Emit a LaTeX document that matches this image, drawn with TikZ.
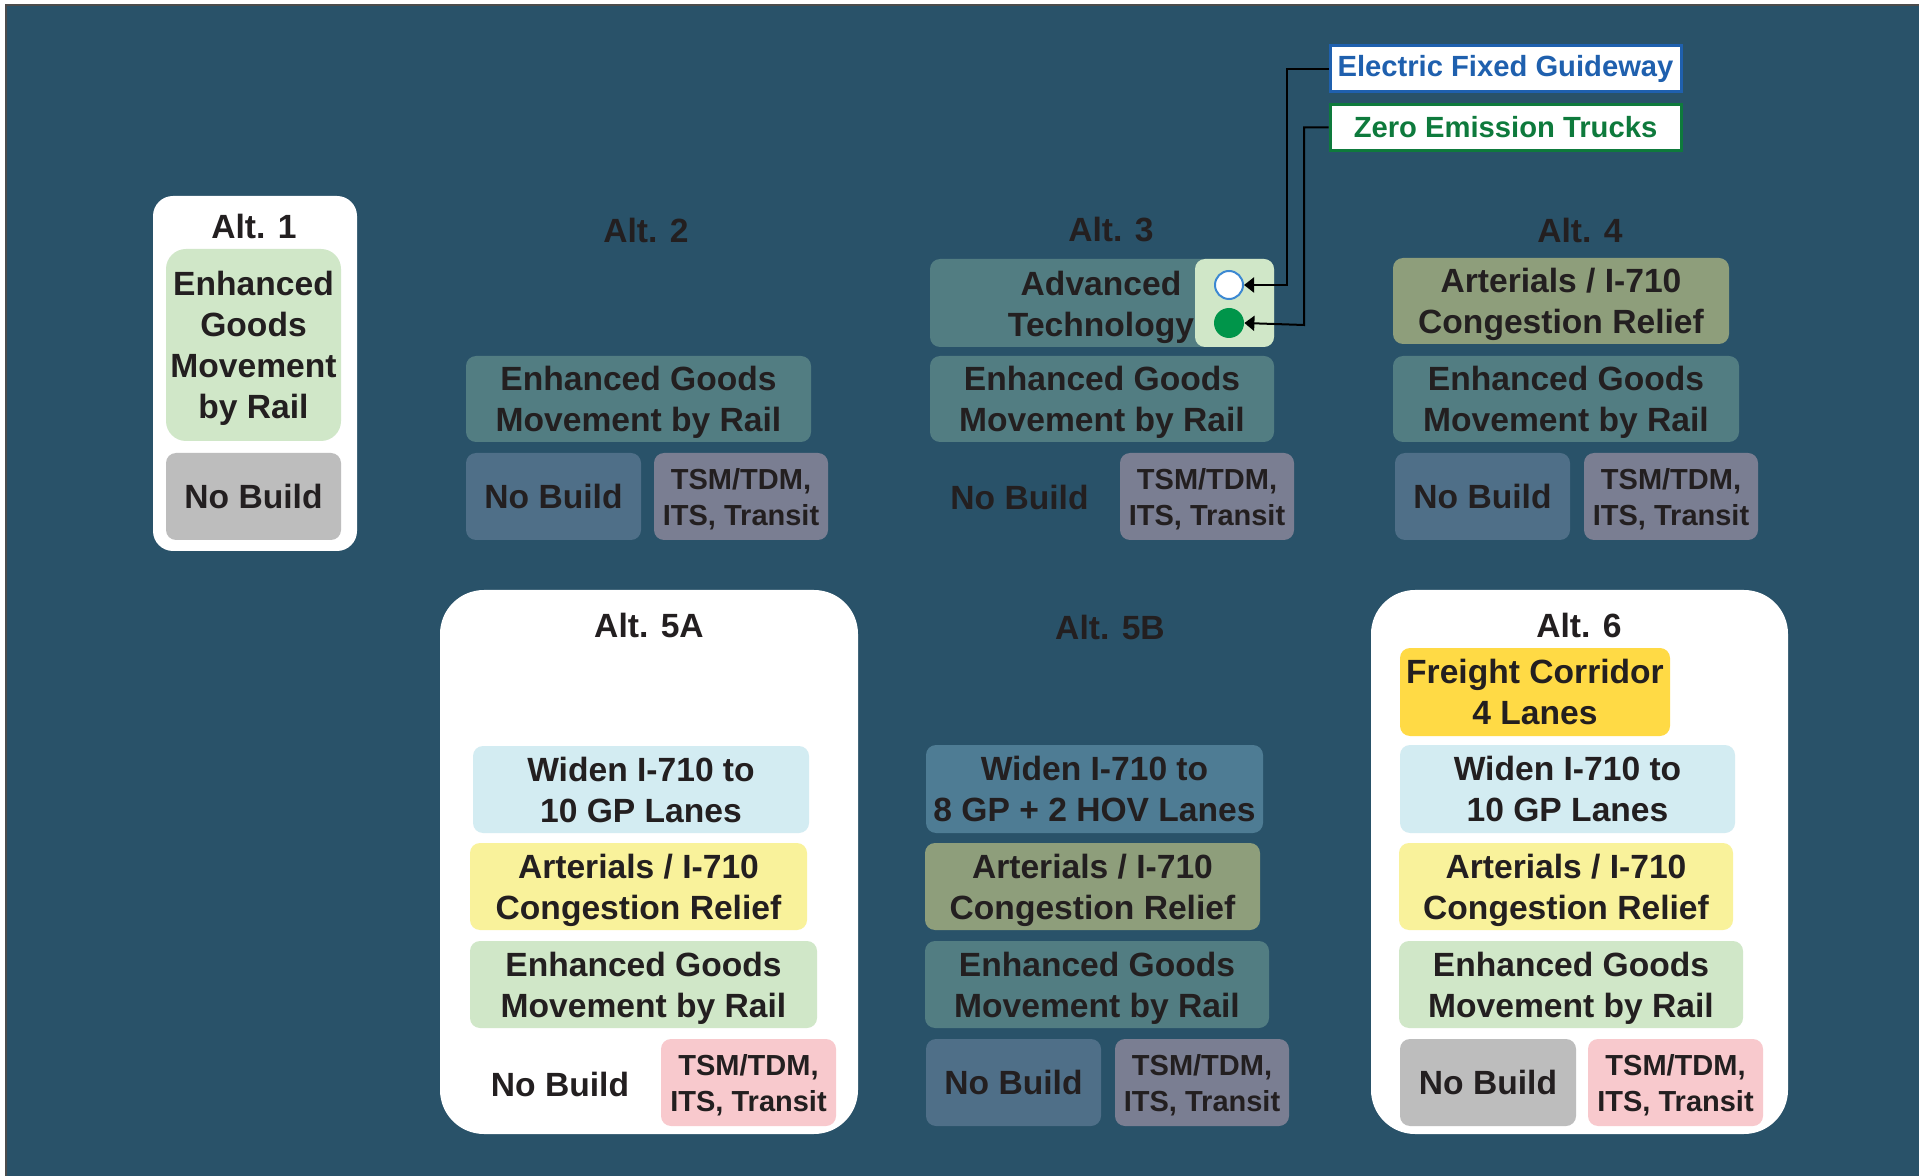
\documentclass[tikz,border=0pt]{standalone}
\usepackage{fontspec}
\newfontfamily\arialf{Liberation Sans}
\usetikzlibrary{arrows.meta}
\definecolor{bg}{HTML}{295269}
\definecolor{txt}{HTML}{231F20}
\definecolor{lgreen}{HTML}{D0E7C8}
\definecolor{lgray}{HTML}{BDBDBD}
\definecolor{lblue}{HTML}{D3ECF2}
\definecolor{lyellow}{HTML}{F9F29B}
\definecolor{fyellow}{HTML}{FFDA45}
\definecolor{lpink}{HTML}{F8C9CD}
\definecolor{dgoods}{HTML}{527D82}
\definecolor{dnobuild}{HTML}{4F6F88}
\definecolor{dtsm}{HTML}{7A7E92}
\definecolor{dwiden}{HTML}{4E7C94}
\definecolor{dart}{HTML}{8E9E7B}
\definecolor{efgblue}{HTML}{1F60AE}
\definecolor{zetgreen}{HTML}{0E7A3C}
\definecolor{ringblue}{HTML}{3C88D2}
\definecolor{dotgreen}{HTML}{00954A}
\newcommand\bigtxt{\arialf\bfseries\fontsize{16.8}{20.6}\selectfont}
\newcommand\smalltxt{\arialf\bfseries\fontsize{14.5}{18}\selectfont}
\newcommand\legtxt{\arialf\bfseries\fontsize{14.6}{17}\selectfont}
\newcommand\mkbox[7]{\node[box,#6,minimum width=#4*0.5pt,minimum height=#5*0.5pt] (#1) at (#2,#3) {#7};}
\begin{document}
\begin{tikzpicture}[x=0.5pt,y=-0.5pt,
  box/.style={rounded corners=5pt,inner sep=0pt,align=center,font=\bigtxt,text=txt,text depth=0pt},
  tsmbox/.style={box,font=\smalltxt},
  container/.style={fill=white,inner sep=0pt},
  lbl/.style={inner sep=0pt,font=\bigtxt,text=txt},
  legend/.style={fill=white,line width=1.5pt,inner sep=0pt,font=\legtxt,minimum width=175.5pt,minimum height=23pt},
  arr/.style={draw=black,line width=1pt,-{Triangle[length=5pt,width=7.5pt]}}]
\useasboundingbox (0,0) rectangle (1929,1176);
% background
\fill[bg] (6,5) rectangle (1919,1176);
\draw[black!70,line width=1pt] (6,1176) -- (6,5) -- (1919,5);

% ---------- Alt 1 ----------
\node[container,rounded corners=10pt,minimum width=102pt,minimum height=177.5pt] (alt1) at (255,373.5) {};
\node[lbl] (alt1lbl) at (254,226) {Alt. 1};
\mkbox{a1goods}{253.5}{345}{175}{192}{fill=lgreen,rounded corners=10pt}{Enhanced\\Goods\\Movement\\by Rail}
\mkbox{a1nb}{253.5}{496.5}{175}{87}{fill=lgray}{No Build}

% ---------- Alt 2 ----------
\node[lbl] (alt2lbl) at (646,230) {Alt. 2};
\mkbox{a2goods}{638.5}{399}{345}{86}{fill=dgoods}{Enhanced Goods\\Movement by Rail}
\mkbox{a2nb}{553.5}{496.5}{175}{87}{fill=dnobuild}{No Build}
\mkbox{a2tsm}{741}{496.5}{174}{87}{fill=dtsm,tsmbox}{TSM/TDM,\\ITS, Transit}

% ---------- Alt 3 ----------
\node[lbl] (alt3lbl) at (1111,230) {Alt. 3};
\mkbox{a3adv}{1102}{303}{344}{88}{fill=dgoods}{}
\mkbox{a3panel}{1234.5}{303}{79}{88}{fill=lgreen}{}
\node[lbl,align=center,text depth=0pt] (a3advtxt) at (1101,304) {Advanced\\Technology};
\node[circle,draw=ringblue,fill=white,line width=1pt,minimum size=14pt,inner sep=0pt] (c1) at (1229,285) {};
\node[circle,fill=dotgreen,minimum size=15pt,inner sep=0pt] (c2) at (1229,323) {};
\mkbox{a3goods}{1102}{399}{344}{86}{fill=dgoods}{Enhanced Goods\\Movement by Rail}
\node[lbl] (a3nb) at (1019.5,497) {No Build};
\mkbox{a3tsm}{1207}{496.5}{174}{87}{fill=dtsm,tsmbox}{TSM/TDM,\\ITS, Transit}

% legend
\node[legend,draw=efgblue,text=efgblue] (efg) at (1505.5,69) {Electric Fixed Guideway};
\node[legend,draw=zetgreen,text=zetgreen] (zet) at (1505.5,127.5) {Zero Emission Trucks};
\coordinate (k1) at (1287,285);
\coordinate (k2) at (1304,325);
\draw[arr] (efg.west) -| (k1) -- (c1.east);
\draw[arr] (zet.west) -| (k2) -- (c2.east);

% ---------- Alt 4 ----------
\node[lbl] (alt4lbl) at (1580,230) {Alt. 4};
\mkbox{a4art}{1561}{301}{336}{86}{fill=dart}{Arterials / I-710\\Congestion Relief}
\mkbox{a4goods}{1566}{399}{346}{86}{fill=dgoods}{Enhanced Goods\\Movement by Rail}
\mkbox{a4nb}{1482.5}{496.5}{175}{87}{fill=dnobuild}{No Build}
\mkbox{a4tsm}{1671}{496.5}{174}{87}{fill=dtsm,tsmbox}{TSM/TDM,\\ITS, Transit}

% ---------- Alt 5A ----------
\node[container,rounded corners=22pt,minimum width=209pt,minimum height=272pt] (alt5a) at (649,862) {};
\node[lbl] (alt5albl) at (649,625) {Alt. 5A};
\mkbox{a5awiden}{641}{789.5}{336}{87}{fill=lblue}{Widen I-710 to\\10 GP Lanes}
\mkbox{a5aart}{638.5}{886.5}{337}{87}{fill=lyellow}{Arterials / I-710\\Congestion Relief}
\mkbox{a5agoods}{643.5}{984.5}{347}{87}{fill=lgreen}{Enhanced Goods\\Movement by Rail}
\node[lbl] (a5anb) at (560,1084) {No Build};
\mkbox{a5atsm}{748.5}{1082.5}{175}{87}{fill=lpink,tsmbox}{TSM/TDM,\\ITS, Transit}

% ---------- Alt 5B ----------
\node[lbl] (alt5blbl) at (1110,627) {Alt. 5B};
\mkbox{a5bwiden}{1094.5}{789}{337}{88}{fill=dwiden}{Widen I-710 to\\8 GP + 2 HOV Lanes}
\mkbox{a5bart}{1092.5}{886.5}{335}{87}{fill=dart}{Arterials / I-710\\Congestion Relief}
\mkbox{a5bgoods}{1097}{984.5}{344}{87}{fill=dgoods}{Enhanced Goods\\Movement by Rail}
\mkbox{a5bnb}{1013.5}{1082.5}{175}{87}{fill=dnobuild}{No Build}
\mkbox{a5btsm}{1202}{1082.5}{174}{87}{fill=dtsm,tsmbox}{TSM/TDM,\\ITS, Transit}

% ---------- Alt 6 ----------
\node[container,rounded corners=22pt,minimum width=208.5pt,minimum height=272pt] (alt6) at (1579.5,862) {};
\node[lbl] (alt6lbl) at (1579,625) {Alt. 6};
\mkbox{a6freight}{1535}{692}{270}{88}{fill=fyellow}{Freight Corridor\\4 Lanes}
\mkbox{a6widen}{1567.5}{789}{335}{88}{fill=lblue}{Widen I-710 to\\10 GP Lanes}
\mkbox{a6art}{1566}{886.5}{334}{87}{fill=lyellow}{Arterials / I-710\\Congestion Relief}
\mkbox{a6goods}{1571}{984.5}{344}{87}{fill=lgreen}{Enhanced Goods\\Movement by Rail}
\mkbox{a6nb}{1488}{1082.5}{176}{87}{fill=lgray}{No Build}
\mkbox{a6tsm}{1675.5}{1082.5}{175}{87}{fill=lpink,tsmbox}{TSM/TDM,\\ITS, Transit}
\end{tikzpicture}
\end{document}
